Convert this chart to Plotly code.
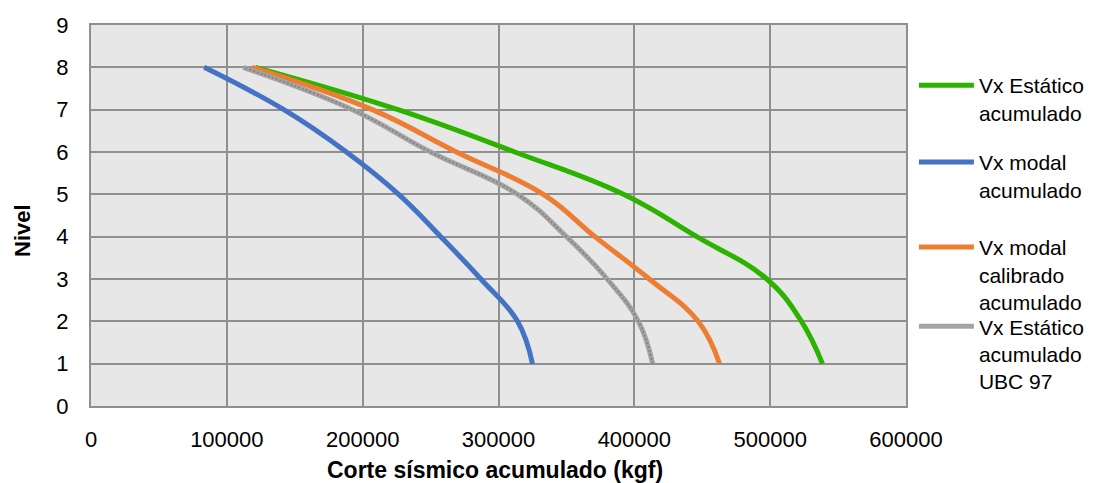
import plotly.graph_objects as go

niveles = [1, 2, 3, 4, 5, 6, 7, 8]
vx_estatico = [538500, 523000, 497500, 446000, 392000, 312000, 226000, 121000]
vx_modal = [325000, 314000, 287000, 257500, 226500, 188000, 142000, 83300]
vx_modal_cal = [462700, 447000, 411000, 371000, 333000, 269000, 207000, 118600]
vx_ubc97 = [413500, 403000, 380000, 350000, 314000, 250000, 192500, 112000]

names = ["Vx Estático<br>acumulado", "Vx modal<br>acumulado",
         "Vx modal<br>calibrado<br>acumulado", "Vx Estático<br>acumulado<br>UBC 97"]
colors = ["#2db200", "#4472c4", "#ed7d31", "#a4a4a4"]
series = [vx_estatico, vx_modal, vx_modal_cal, vx_ubc97]
legend_ids = ["legend", "legend2", "legend3", "legend4"]
legend_y = [0.895, 0.693, 0.470, 0.262]

FONT = "Liberation Sans, Arial, sans-serif"

fig = go.Figure()
for name, col, vals, lid in zip(names, colors, series, legend_ids):
    fig.add_trace(go.Scatter(
        x=vals, y=niveles, mode="lines", name=name,
        line=dict(color=col, width=5, shape="spline", smoothing=1.2),
        legend=lid,
    ))
# subtle texture on the UBC 97 line
fig.add_trace(go.Scatter(
    x=vx_ubc97, y=niveles, mode="lines", showlegend=False, hoverinfo="skip",
    line=dict(color="#858585", width=2, shape="spline", smoothing=1.2, dash="2px,2px"),
    legend="legend4",
))

legend_common = dict(
    x=1.0097, xanchor="left", yanchor="top", valign="top", itemwidth=55,
    font=dict(family=FONT, size=21, color="#000000"),
    bgcolor="rgba(0,0,0,0)", borderwidth=0,
)
layout_legends = {}
for lid, ly in zip(legend_ids, legend_y):
    layout_legends[lid] = dict(legend_common, y=ly)

fig.update_layout(
    width=1101, height=483,
    margin=dict(l=91, r=195, t=25, b=77, autoexpand=False),
    paper_bgcolor="#ffffff",
    plot_bgcolor="#e7e7e7",
    font=dict(family=FONT, size=22, color="#000000"),
    showlegend=True,
    xaxis=dict(
        range=[0, 600000], dtick=100000, tick0=0, tickformat="d",
        showgrid=True, gridcolor="#8f8f8f", gridwidth=1.5,
        showline=True, linecolor="#8f8f8f", linewidth=2, mirror=True,
        zeroline=False, ticks="", ticklabelstandoff=13, automargin=False,
        tickfont=dict(family=FONT, size=22),
    ),
    yaxis=dict(
        range=[0, 9], dtick=1, tick0=0,
        showgrid=True, gridcolor="#8f8f8f", gridwidth=1.5,
        showline=True, linecolor="#8f8f8f", linewidth=2, mirror=True,
        zeroline=False, ticks="", ticklabelstandoff=16, automargin=False,
        tickfont=dict(family=FONT, size=22),
    ),
    annotations=[
        dict(
            text="<b>Nivel</b>", textangle=-90, showarrow=False,
            xref="paper", yref="paper", x=(22 - 91) / 815, y=(406 - 231) / 381,
            xanchor="center", yanchor="middle",
            font=dict(family=FONT, size=22, color="#000000"),
        ),
        dict(
            text="<b>Corte sísmico acumulado (kgf)</b>", showarrow=False,
            xref="paper", yref="paper", x=(495 - 91) / 815, y=(406 - 470) / 381,
            xanchor="center", yanchor="middle",
            font=dict(family=FONT, size=23, color="#000000"),
        ),
    ],
    **layout_legends,
)

fig.write_html("out.html", config={"displayModeBar": False},
               post_script="document.body.style.margin='0';")
